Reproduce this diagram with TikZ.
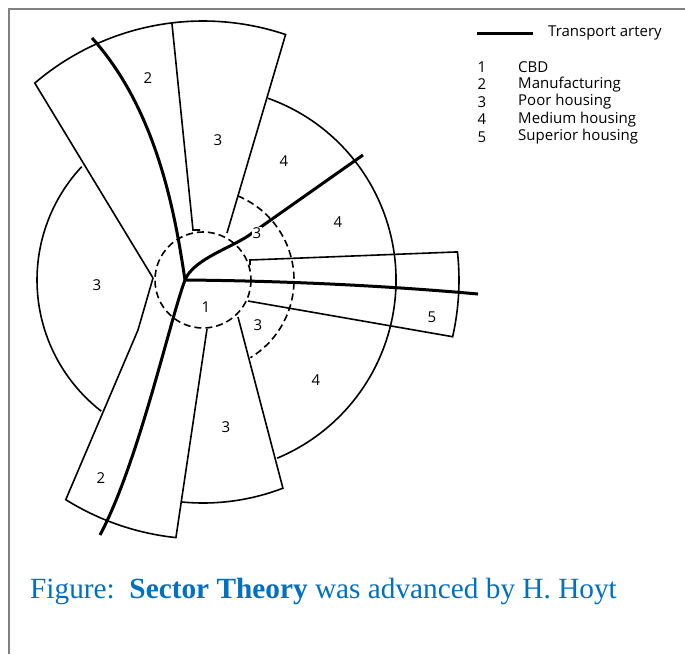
\documentclass[tikz,border=0pt]{standalone}
\usepackage{fontspec}
\setmainfont{Liberation Serif}
\setsansfont{Open Sans}
\usetikzlibrary{calc}
\definecolor{capblue}{RGB}{0,112,192}
\definecolor{framegray}{RGB}{128,128,128}

\begin{document}
\begin{tikzpicture}[
    x=1pt, y=-1pt,
    zone/.style={line width=1.6pt},
    artery/.style={line width=3pt},
    ring/.style={line width=1.6pt, dash pattern=on 7pt off 4pt},
    lbl/.style={font=\sffamily\fontsize{15}{15}\selectfont, inner sep=1pt},
    key/.style={font=\sffamily\fontsize{15}{15}\selectfont, inner sep=0pt}
]
\useasboundingbox (0,0) rectangle (685,654);
\draw[framegray, line width=2pt] (9,654) -- (9,9) -- (685,9);

\coordinate (O) at (203,280);
\coordinate (cbdjoin) at (185,280);

% CBD and poor housing ring
\draw[ring] (O) circle[radius=48];
\draw[ring] ($(O)+(-67.6:91)$) arc[start angle=-67.6, end angle=58.6, radius=91];

% sectors
\draw[zone] (153,278) -- ($(O)+(-130.5:259)$) arc[start angle=-130.5, end angle=-71.4, radius=259] -- (227,233);
\draw[zone] ($(O)+(-96.9:259)$) -- (193,230) -- (200,230);
\draw[zone] ($(O)+(-70.3:193)$) arc[start angle=-70.3, end angle=67.4, radius=193];
\draw[zone] ($(O)+(-136.9:166)$) arc[start angle=-136.9, end angle=-232.2, radius=166];
\draw[zone] (153,278) -- (138,330) -- ($(O)+(122:259)$) arc[start angle=122, end angle=96, radius=259] -- (207,329);
\draw[zone] ($(O)+(95.6:223)$) arc[start angle=95.6, end angle=69, radius=223] -- (238,317);
\draw[zone] (250,265) -- (250,260) -- ($(O)+(-6.3:256)$) arc[start angle=-6.3, end angle=12.8, radius=256] -- (248,301);

% transport arteries
\draw[artery] (cbdjoin) .. controls (176,221) and (159,112) .. (92,38);
\draw[artery] (cbdjoin) .. controls (170,320) and (138,464) .. (100,535);
\draw[artery] (cbdjoin) .. controls (300,281) and (400,287) .. (478,294);
\draw[artery] (cbdjoin) .. controls (193,260) and (228,249) .. (248,236) -- (363,155);

% zone numbers
\node[lbl] (n2) at (148,78) {2};
\node[lbl] (n3) at (218,140) {3};
\node[lbl] (ne4) at (284,161) {4};
\node[lbl] (e4) at (338,222) {4};
\node[lbl] (w3) at (97,285) {3};
\node[lbl] (cbd) at (206,307) {1};
\node[lbl, fill=white] (ring3a) at (257,233) {3};
\node[lbl] (ring3b) at (258,325) {3};
\node[lbl] (sup5) at (432,317) {5};
\node[lbl] (se4) at (316,380) {4};
\node[lbl] (s3) at (226,427) {3};
\node[lbl] (s2) at (101,478) {2};

% legend
\draw[artery] (477,33) -- (533,33);
\node[key, anchor=west] (keyartery) at (548,33) {Transport artery};
\foreach \n/\t in {1/CBD, 2/Manufacturing, 3/Poor housing, 4/Medium housing, 5/Superior housing}{
    \node[key] (keynum\n) at (482,{67+(\n-1)*17.5}) {\n};
    \node[key, anchor=west] (keytxt\n) at (518,{67+(\n-1)*17.5}) {\t};
}

\node[anchor=base west, inner sep=0pt, text=capblue, font=\fontsize{29.3}{29.3}\selectfont] (caption) at (30,598)
    {Figure:\ \ \textbf{Sector Theory} was advanced by H. Hoyt};
\end{tikzpicture}
\end{document}
